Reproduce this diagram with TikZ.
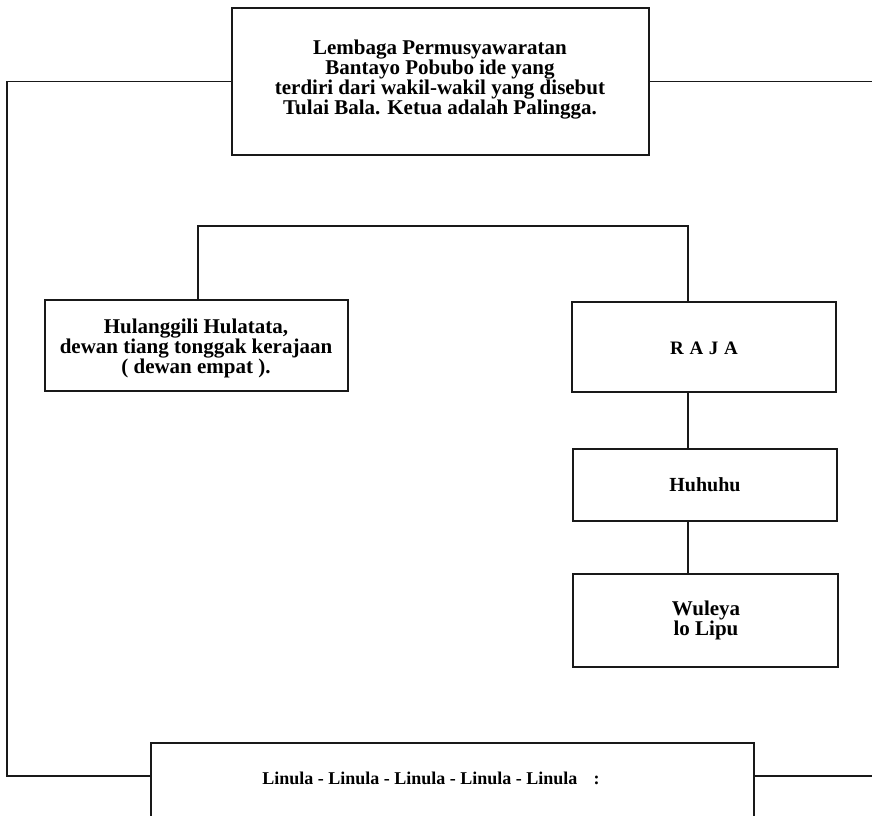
\documentclass[tikz,border=0pt]{standalone}
\usepackage{fontspec}
\setmainfont{Liberation Serif}
\begin{document}
\begin{tikzpicture}[x=1pt,y=-1pt,
  box/.style={draw=black!90,line width=1.8pt,rectangle,inner sep=0pt},
  lbl/.style={font=\fontsize{21}{20}\selectfont\bfseries,align=center,inner sep=0pt},
  conn/.style={draw=black!90,line width=1.7pt}]
\path[use as bounding box,clip] (0,0) rectangle (872,815);
\fill[white] (0,0) rectangle (872,815);

% boxes
\node[box,minimum width=417pt,minimum height=147pt] (top) at (440.5,81.5) {};
\node[lbl] (toptext) at (440,80) {Lembaga Permusyawaratan\\Bantayo Pobubo ide yang\\terdiri dari wakil-wakil yang disebut\\Tulai Bala. Ketua adalah Palingga.};

\node[box,minimum width=303pt,minimum height=91pt] (hul) at (196.5,345.5) {};
\node[lbl] (hultext) at (196,348) {Hulanggili Hulatata,\\dewan tiang tonggak kerajaan\\( dewan empat ).};

\node[box,minimum width=264pt,minimum height=90pt] (raja) at (704,347) {};
\node[lbl,font=\fontsize{19}{20}\selectfont\bfseries] (rajatext) at (704,348) {R\hspace{0.3em}A\hspace{0.3em}J\hspace{0.3em}A};

\node[box,minimum width=264pt,minimum height=72pt] (huh) at (705,485) {};
\node[lbl,font=\fontsize{20}{20}\selectfont\bfseries] (huhtext) at (705,485) {Huhuhu};

\node[box,minimum width=265pt,minimum height=93pt] (wul) at (705.5,620.5) {};
\node[lbl,font=\fontsize{21}{20}\selectfont\bfseries] (wultext) at (706,620) {Wuleya\\lo Lipu};

\node[box,minimum width=603pt,minimum height=90pt] (bot) at (452.5,788) {};
\node[lbl,font=\fontsize{18}{20}\selectfont\bfseries] (bottext) at (431,778) {Linula - Linula - Linula - Linula - Linula\hspace{0.9em}:};

% connector coordinates
\coordinate (lc1) at (7,81.5);
\coordinate (lc2) at (7,776);
\coordinate (rc1) at (873,81.5);
\coordinate (rc2) at (873,776);
\coordinate (bl) at (198,226);
\coordinate (brr) at (688,226);

% outer frame lines
\draw[conn] (top.west) -- (lc1) -- (lc2) -- (bot.west |- lc2);
\draw[conn] (top.east) -- (rc1);
\draw[conn] (bot.east |- rc2) -- (rc2);

% branch
\draw[conn] (hul.north -| bl) -- (bl) -- (brr) -- (raja.north -| brr);
\draw[conn] (raja.south -| brr) -- (huh.north -| brr);
\draw[conn] (huh.south -| brr) -- (wul.north -| brr);
\end{tikzpicture}
\end{document}
